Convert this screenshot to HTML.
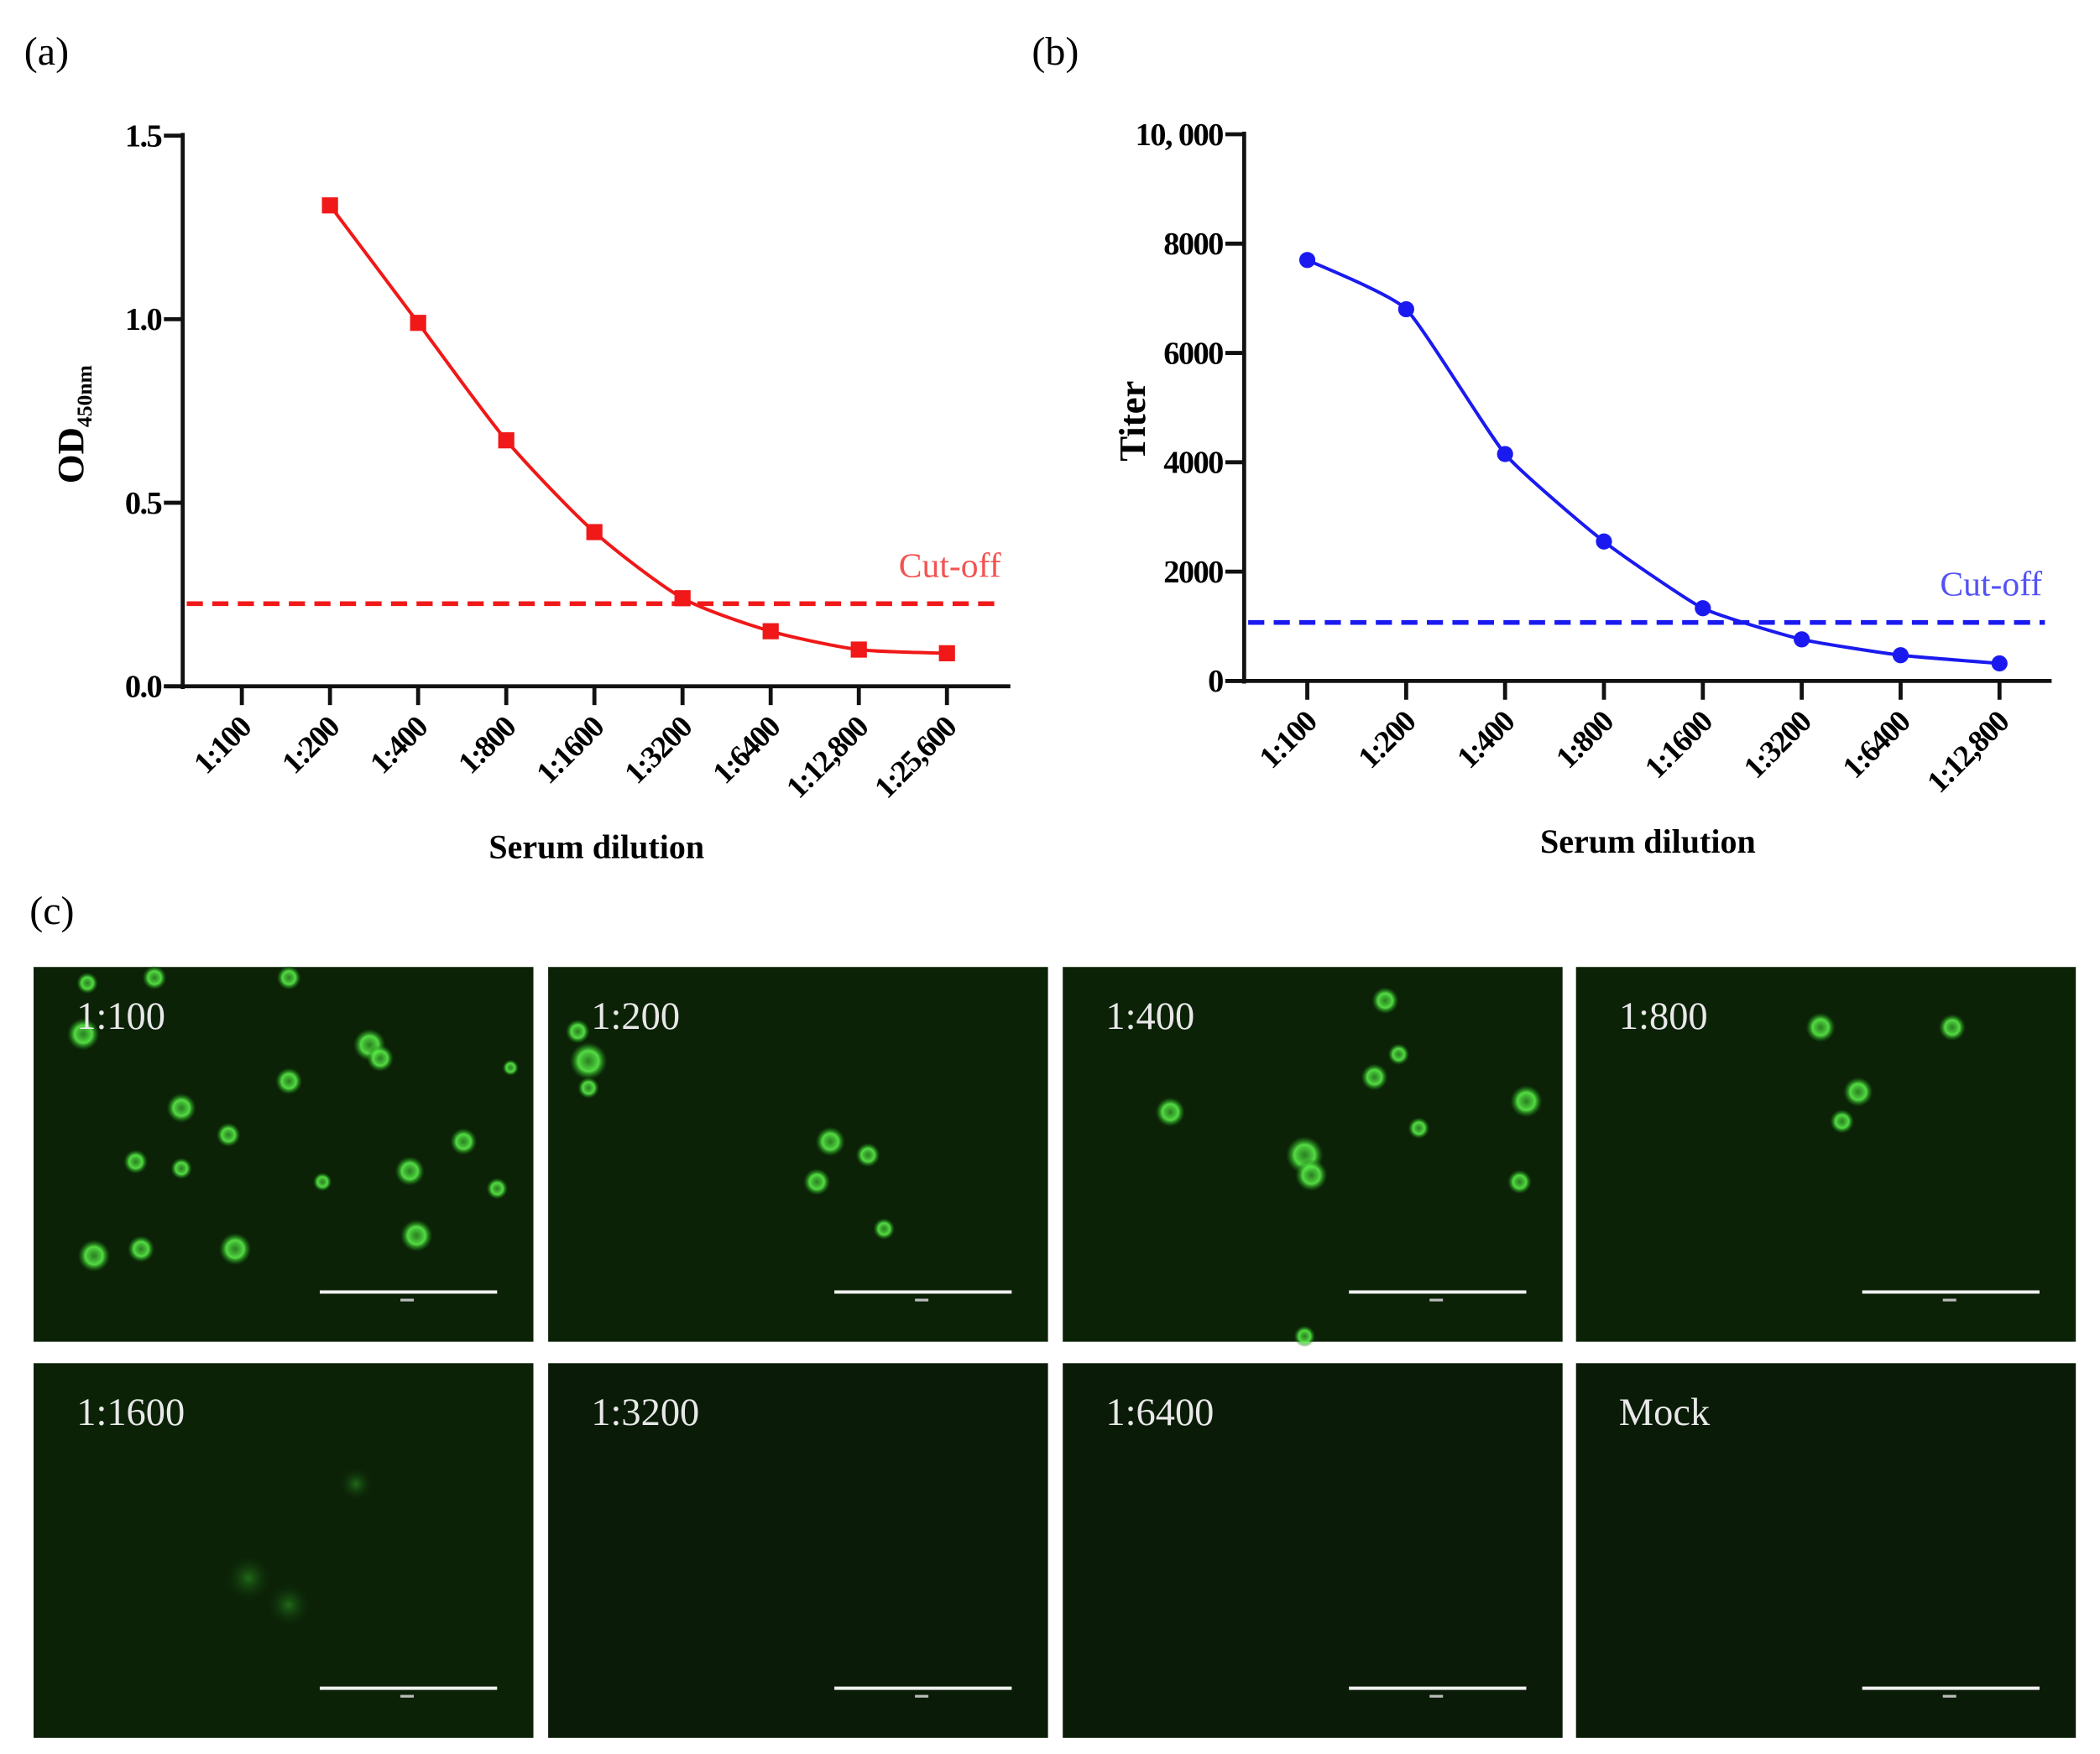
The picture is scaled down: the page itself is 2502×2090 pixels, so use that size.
<!DOCTYPE html>
<html><head><meta charset="utf-8"><style>
html,body{margin:0;padding:0;background:#fff;}
svg{display:block;font-family:"Liberation Serif",serif;}
</style></head><body>
<svg id="fig" width="2502" height="2090" viewBox="0 0 1563 1306" preserveAspectRatio="none">
<defs>
<radialGradient id="cell"><stop offset="0" stop-color="#3fc032" stop-opacity="0.6"/><stop offset="0.55" stop-color="#5cf04a" stop-opacity="0.9"/><stop offset="0.8" stop-color="#2a9a20" stop-opacity="0.5"/><stop offset="1" stop-color="#1a6a12" stop-opacity="0"/></radialGradient>
<radialGradient id="cellDim"><stop offset="0" stop-color="#2f9a25" stop-opacity="0.6"/><stop offset="1" stop-color="#123a0c" stop-opacity="0"/></radialGradient>
</defs>
<text x="18" y="48" font-size="30">(a)</text>
<text x="768" y="48" font-size="30">(b)</text>
<text x="22" y="688" font-size="30">(c)</text>
<g id="chartA"></g>
<g id="chartB"></g>
<g id="imgs"></g>
</svg>
<script>
const catsA = ["1:100","1:200","1:400","1:800","1:1600","1:3200","1:6400","1:12,800","1:25,600"];
const valsA = [null,1.31,0.99,0.67,0.42,0.24,0.15,0.10,0.09];
const ticksA = [0,0.5,1.0,1.5];
const tickLabelsA = ["0.0","0.5","1.0","1.5"];
const cutoffA = 0.225;
const catsB = ["1:100","1:200","1:400","1:800","1:1600","1:3200","1:6400","1:12,800"];
const valsB = [7700,6800,4150,2550,1330,760,470,320];
const ticksB = [0,2000,4000,6000,8000,10000];
const tickLabelsB = ["0","2000","4000","6000","8000","10, 000"];
const cutoffB = 1070;
const imgLabels = ["1:100","1:200","1:400","1:800","1:1600","1:3200","1:6400","Mock"];

const NS="http://www.w3.org/2000/svg";
function mk(p,tag,attrs){const e=document.createElementNS(NS,tag);for(const k in attrs)e.setAttribute(k,attrs[k]);p.appendChild(e);return e;}
function spline(pts,t){let d="M"+pts[0][0]+","+pts[0][1];for(let i=0;i<pts.length-1;i++){const p0=pts[i-1]||pts[i],p1=pts[i],p2=pts[i+1],p3=pts[i+2]||p2;const c1=[p1[0]+(p2[0]-p0[0])*t,p1[1]+(p2[1]-p0[1])*t],c2=[p2[0]-(p3[0]-p1[0])*t,p2[1]-(p3[1]-p1[1])*t];d+=" C"+c1+" "+c2+" "+p2;}return d;}

function chart(g,cfg){
  const {cats,vals,ticks,labels,cut,ymax,axX,x0,y0,yTop,dx,xEnd,color,marker,ylabel,cutX,cutY,sub,tens}=cfg;
  const xs=i=>x0+i*dx, ys=v=>y0-(v/ymax)*(y0-yTop);
  let e;
  e=mk(g,"line",{x1:axX,y1:yTop-2,x2:axX,y2:y0+2,stroke:"#111","stroke-width":3});
  
  e=mk(g,"line",{x1:axX-14,y1:y0,x2:xEnd,y2:y0,stroke:"#111","stroke-width":3});
  
  ticks.forEach((t,i)=>{
    e=mk(g,"line",{x1:axX-14,y1:ys(t),x2:axX,y2:ys(t),stroke:"#111","stroke-width":3});
    
    e=mk(g,"text",{x:axX-16,y:ys(t)+8,"text-anchor":"end","font-size":24,"font-weight":"bold","letter-spacing":"-1"});e.textContent=labels[i];
    
  });
  cats.forEach((c,i)=>{
    e=mk(g,"line",{x1:xs(i),y1:y0,x2:xs(i),y2:y0+14,stroke:"#111","stroke-width":3});
    
    e=mk(g,"text",{x:xs(i)+8,y:y0+32,"text-anchor":"end","font-size":23,"font-weight":"bold","letter-spacing":"-1",transform:`rotate(-45 ${xs(i)+8} ${y0+32})`});e.textContent=c;
    
  });
  e=mk(g,"text",{x:(axX+xEnd)/2,y:y0+128,"text-anchor":"middle","font-size":25,"font-weight":"bold"});e.textContent="Serum dilution";
  
  const yl=mk(g,"text",{x:0,y:0,"font-size":28,"font-weight":"bold",transform:`translate(${axX-74} ${(yTop+y0)/2+10}) rotate(-90)`,"text-anchor":"middle"});
  yl.textContent=ylabel;
  if(sub){const ts=mk(yl,"tspan",{"font-size":16,dy:6});ts.textContent=sub;}
  
  e=mk(g,"line",{x1:axX+3,y1:ys(cut),x2:xEnd-5,y2:ys(cut),stroke:color,"stroke-width":3.5,"stroke-dasharray":"12 7"});
  
  e=mk(g,"text",{x:cutX,y:ys(cut)+cutY,"text-anchor":"end","font-size":26,fill:color,"fill-opacity":0.75});e.textContent="Cut-off";
  
  const pts=[];vals.forEach((v,i)=>{if(v!==null)pts.push([xs(i),ys(v)]);});
  e=mk(g,"path",{d:spline(pts,tens),fill:"none",stroke:color,"stroke-width":2.5});
  
  vals.forEach((v,i)=>{if(v===null)return;
    if(marker==="sq") e=mk(g,"rect",{x:xs(i)-6,y:ys(v)-6,width:12,height:12,fill:color});
    else e=mk(g,"circle",{cx:xs(i),cy:ys(v),r:6,fill:color});
    
  });
}
chart(document.getElementById("chartA"),{cats:catsA,vals:valsA,ticks:ticksA,labels:tickLabelsA,cut:cutoffA,ymax:1.5,axX:136,x0:180,y0:511,yTop:101,dx:65.6,xEnd:752,color:"#f01818",marker:"sq",ylabel:"OD",sub:"450nm",cutX:745,cutY:-20,tens:0.12});
chart(document.getElementById("chartB"),{cats:catsB,vals:valsB,ticks:ticksB,labels:tickLabelsB,cut:cutoffB,ymax:10000,axX:926,x0:973,y0:507,yTop:100,dx:73.6,xEnd:1527,color:"#1a1af0",marker:"c",ylabel:"Titer",sub:null,cutX:1520,cutY:-20,tens:0.08});

// fluorescence image panels (decorative)
const imgs=document.getElementById("imgs");
const px=[25,408,791,1173], py=[720,1015];
const blobs=[
 [[37,50,12],[110,105,11],[250,58,12],[258,68,10],[190,85,10],[110,150,8],[76,145,9],[145,125,9],[215,160,7],[280,152,11],[320,130,10],[45,215,12],[80,210,10],[150,210,12],[285,200,12],[345,165,8],[190,8,9],[90,8,9],[40,12,8],[355,75,6]],
 [[30,70,14],[22,48,9],[200,160,10],[238,140,9],[250,195,8],[210,130,11],[30,90,8]],
 [[80,108,11],[180,140,14],[185,155,12],[240,25,10],[345,100,12],[232,82,10],[265,120,8],[340,160,9],[180,275,8],[250,65,8]],
 [[182,45,11],[280,45,10],[210,93,11],[198,115,9]],
 [[160,160,14],[190,180,13],[240,90,10]],
 [],[],[]];
imgLabels.forEach((lab,k)=>{
  const x=px[k%4],y=py[Math.floor(k/4)];
  const g=mk(imgs,"g",{});
  
  const bg=k<5?"#0b2207":"#0a1c07";
  mk(g,"rect",{x:x,y:y,width:372,height:279,fill:bg});
  blobs[k].forEach(b=>{mk(g,"circle",{cx:x+b[0],cy:y+b[1],r:b[2]*(k===4?1.2:1),fill:k===4?"url(#cellDim)":"url(#cell)"});});
  const t=mk(g,"text",{x:x+32,y:y+46,"font-size":29,fill:"#e8e8e8"});t.textContent=lab;
  
  const s=mk(g,"line",{x1:x+213,y1:y+242,x2:x+345,y2:y+242,stroke:"#f0f0f0","stroke-width":2.5});
  
  mk(g,"rect",{x:x+273,y:y+247,width:10,height:2,fill:"#bbb"});
});
</script>
</body></html>
